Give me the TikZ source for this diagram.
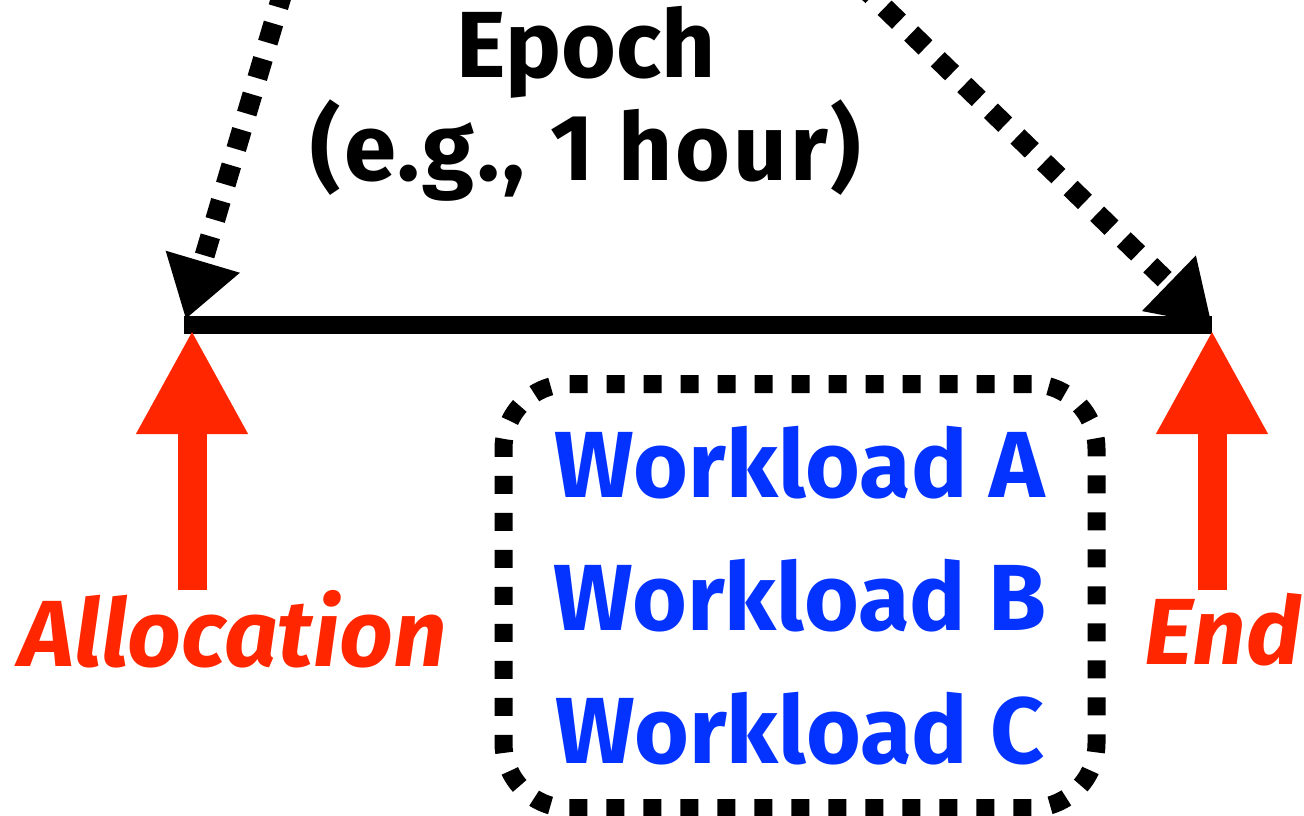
\documentclass[tikz,border=0pt]{standalone}
\usepackage{fontspec}
\setsansfont{Fira Sans}
\usetikzlibrary{arrows.meta}
\definecolor{alertred}{RGB}{255,38,0}
\definecolor{jobblue}{RGB}{4,51,255}

\begin{document}
\begin{tikzpicture}[x=1pt, y=-1pt, font=\sffamily\bfseries,
    every node/.style={align=center, inner sep=0pt},
    big/.style={font=\sffamily\bfseries\fontsize{94}{96}\selectfont},
    timeline/.style={line width=18pt},
    cue/.style={-{Triangle[length=60pt, width=73pt]}, line width=20pt, dash pattern=on 20pt off 17pt},
    marker/.style={-{Triangle[length=104pt, width=104pt]}, line width=29pt, draw=alertred},
    tag/.style={text=alertred, font=\sffamily\bfseries\itshape\fontsize{94}{96}\selectfont},
    pool/.style={draw, rounded corners=65pt, line width=18pt, dash pattern=on 18pt off 19pt,
                 minimum width=593pt, minimum height=424pt, text=jobblue,
                 font=\sffamily\bfseries\fontsize{94}{133}\selectfont},
]
\useasboundingbox (0,0) rectangle (1304,816);
\clip (0,0) rectangle (1304,816);

% time axis
\coordinate (tStart) at (184,325);
\coordinate (tStop) at (1212,325);
\draw[timeline] (tStart) -- (tStop);

\node[big] (epoch) at (586,104) {Epoch\\\addfontfeature{LetterSpace=3}(e.g., 1 hour)};

\coordinate (fromL) at (284,-12);
\coordinate (fromR) at (858,-18);
\draw[cue, shorten >=6pt] (fromL) -- (tStart);
\draw[cue] (fromR) -- (tStop);

% start and end marks
\node[tag, anchor=base] (alloc) at (233,666) {Allocation};
\node[tag, anchor=base] (done) at (1223,664) {End};

\coordinate (allocFoot) at (192,590);
\coordinate (doneFoot) at (1212,590);
\draw[marker, shorten >=5pt] (allocFoot) -- (allocFoot |- tStart);
\draw[marker, shorten >=5pt] (doneFoot) -- (doneFoot |- tStop);

\node[pool] (jobs) at (800,596) {Workload A\\Workload B\\Workload C};

\end{tikzpicture}
\end{document}
